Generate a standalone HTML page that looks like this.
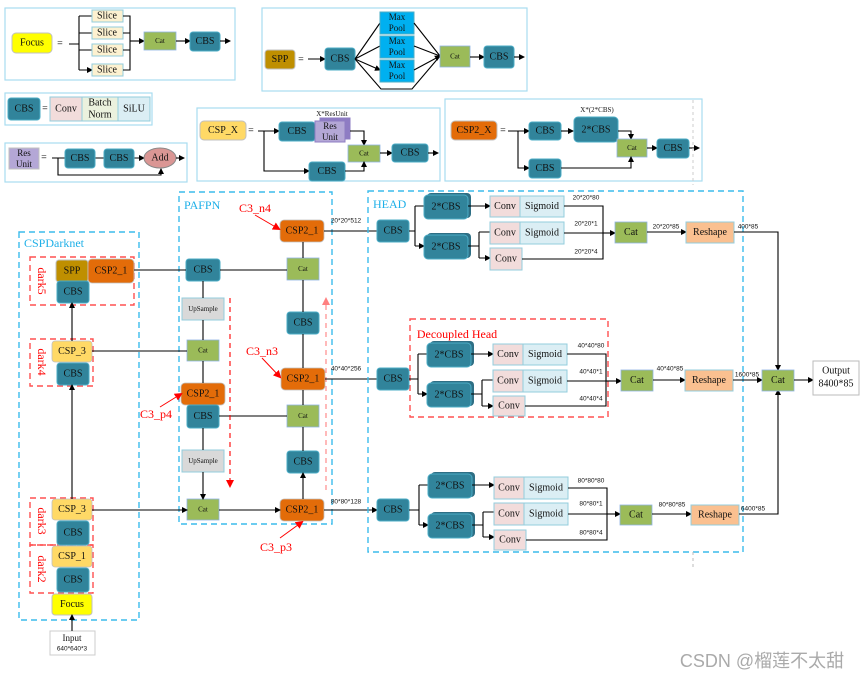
<!DOCTYPE html>
<html><head><meta charset="utf-8"><style>
html,body{margin:0;padding:0;background:#fff;}
svg{display:block;font-family:"Liberation Serif",serif;}
.cbs{fill:#31849b;stroke:#4bacc6;stroke-width:1;}
.cat{fill:#9bbb59;stroke:#8eb4e3;stroke-width:.8;}
.csp2{fill:#e36c09;stroke:#c0c0c0;stroke-width:.8;}
.csp{fill:#ffd966;stroke:#c0c0c0;stroke-width:.8;}
.conv{fill:#f2dcdb;stroke:#93cddd;stroke-width:1;}
.sig{fill:#dbeef4;stroke:#93cddd;stroke-width:1;}
.resh{fill:#fac090;stroke:#93cddd;stroke-width:1;}
.up{fill:#d9d9d9;stroke:#93cddd;stroke-width:1;}
.slice{fill:#fdf1d0;stroke:#93cddd;stroke-width:1;}
.mp{fill:#00b0f0;stroke:#4bacc6;stroke-width:1;}
.box{fill:none;stroke:#a8ddf0;stroke-width:1.2;}
.bd{fill:none;stroke:#3cbcec;stroke-width:1.4;stroke-dasharray:6,4;}
.rd{fill:none;stroke:#ff5050;stroke-width:1.4;stroke-dasharray:6,4;}
.l{fill:none;stroke:#000;stroke-width:1.1;}
text{font-size:10px;text-anchor:middle;dominant-baseline:central;fill:#111;}
.s{font-size:6.5px;font-family:"Liberation Sans",sans-serif;}
.r{fill:#f00;font-size:12px;}
.b{fill:#1fb0e8;font-size:12px;text-anchor:start;}
</style></head><body>
<svg width="863" height="679" viewBox="0 0 863 679" xmlns="http://www.w3.org/2000/svg">
<defs>
<marker id="a" markerWidth="6" markerHeight="6" refX="5" refY="3" orient="auto" markerUnits="userSpaceOnUse"><path d="M0,0L6,3L0,6z" fill="#000"/></marker>
<marker id="ar" markerWidth="8" markerHeight="8" refX="6" refY="4" orient="auto" markerUnits="userSpaceOnUse"><path d="M0,0L8,4L0,8z" fill="#f00"/></marker>
</defs>

<rect class="box" x="5" y="8" width="230" height="72"/>
<rect x="12" y="33" width="40" height="20" rx="4" fill="#ffff00" stroke="#c0c0c0"/><text x="32" y="43">Focus</text>
<text x="60" y="44" fill="#888">=</text>
<path class="l" d="M69,44H79M79,16V70"/>
<path class="l" marker-end="url(#a)" d="M79,16H92M79,33H92M79,50H92M79,70H92"/>
<rect class="slice" x="92" y="10" width="31" height="12"/><text x="107" y="16">Slice</text>
<rect class="slice" x="92" y="27" width="31" height="12"/><text x="107" y="33">Slice</text>
<rect class="slice" x="92" y="44" width="31" height="12"/><text x="107" y="50">Slice</text>
<rect class="slice" x="92" y="64" width="31" height="12"/><text x="107" y="70">Slice</text>
<path class="l" d="M123,16H130V70H123M123,33H130M123,50H130"/>
<path class="l" marker-end="url(#a)" d="M130,41H144"/>
<rect class="cat" x="144" y="32" width="32" height="18"/><text x="160" y="41" style="font-size:7px">Cat</text>
<path class="l" marker-end="url(#a)" d="M176,41H190"/>
<rect class="cbs" x="190" y="32" width="30" height="19" rx="3"/><text x="205" y="41.5">CBS</text>
<path class="l" marker-end="url(#a)" d="M220,41H230"/>

<rect class="box" x="5" y="93" width="147" height="32"/>
<rect class="cbs" x="8" y="98" width="32" height="22" rx="3"/><text x="24" y="109">CBS</text>
<text x="45" y="109" fill="#888">=</text>
<rect class="conv" x="50" y="97" width="32" height="24"/><text x="66" y="109">Conv</text>
<rect x="82" y="97" width="36" height="24" fill="#ebf1de" stroke="#93cddd"/><text x="100" y="103">Batch</text><text x="100" y="115">Norm</text>
<rect class="sig" x="118" y="97" width="32" height="24"/><text x="134" y="109">SiLU</text>

<rect class="box" x="5" y="143" width="182" height="39"/>
<rect x="9" y="148" width="30" height="21" fill="#b4a7d6" stroke="#c0c0c0"/><text x="24" y="153" style="font-size:9px">Res</text><text x="24" y="164" style="font-size:9px">Unit</text>
<text x="44" y="158" fill="#888">=</text>
<path class="l" marker-end="url(#a)" d="M52,158H65M95,158H104M134,158H144"/>
<rect class="cbs" x="65" y="149" width="30" height="19" rx="3"/><text x="80" y="158.5">CBS</text>
<rect class="cbs" x="104" y="149" width="30" height="19" rx="3"/><text x="119" y="158.5">CBS</text>
<ellipse cx="160" cy="158" rx="16" ry="10" fill="#da9694" stroke="#888"/><text x="160" y="158">Add</text>
<path class="l" marker-end="url(#a)" d="M176,158H184"/>
<path class="l" marker-end="url(#a)" d="M58,158V175H161V169"/>

<rect class="box" x="262" y="8" width="265" height="83"/>
<rect x="265" y="50" width="30" height="19" rx="3" fill="#bf8f00" stroke="#c0c0c0"/><text x="280" y="59.5">SPP</text>
<text x="301" y="60" fill="#888">=</text>
<path class="l" marker-end="url(#a)" d="M308,59H325"/>
<rect class="cbs" x="325" y="48" width="30" height="22" rx="3"/><text x="340" y="59">CBS</text>
<path class="l" marker-end="url(#a)" d="M355,59L380,23M355,59L380,46M355,59L380,70"/>
<path class="l" d="M355,59L381,89H412L440,56"/>
<rect class="mp" x="380" y="12" width="34" height="22"/><text x="397" y="17" style="font-size:9px">Max</text><text x="397" y="28" style="font-size:9px">Pool</text>
<rect class="mp" x="380" y="36" width="34" height="22"/><text x="397" y="41" style="font-size:9px">Max</text><text x="397" y="52" style="font-size:9px">Pool</text>
<rect class="mp" x="380" y="60" width="34" height="22"/><text x="397" y="65" style="font-size:9px">Max</text><text x="397" y="76" style="font-size:9px">Pool</text>
<path class="l" marker-end="url(#a)" d="M414,23L440,56M414,46L440,56M414,70L440,56"/>
<rect class="cat" x="440" y="46" width="30" height="21"/><text x="455" y="56.5" style="font-size:7px">Cat</text>
<path class="l" marker-end="url(#a)" d="M470,57H484"/>
<rect class="cbs" x="484" y="46" width="30" height="22" rx="3"/><text x="499" y="57">CBS</text>
<path class="l" marker-end="url(#a)" d="M514,57H524"/>

<rect class="box" x="197" y="108" width="243" height="73"/>
<rect x="200" y="121" width="46" height="19" rx="4" fill="#ffd966" stroke="#c0c0c0"/><text x="223" y="130.5">CSP_X</text>
<text x="251" y="131" fill="#888">=</text>
<path class="l" marker-end="url(#a)" d="M258,131H279"/>
<path class="l" marker-end="url(#a)" d="M264,131V171H309"/>
<rect class="cbs" x="279" y="122" width="36" height="19" rx="3"/><text x="297" y="131.5">CBS</text>
<text x="332" y="114" style="font-size:7px">X*ResUnit</text>
<rect x="320" y="118" width="30" height="21" fill="#8e7cc3" stroke="#8e7cc3"/>
<rect x="315" y="121" width="30" height="21" fill="#b4a7d6" stroke="#8e7cc3"/><text x="330" y="126" style="font-size:9px">Res</text><text x="330" y="137" style="font-size:9px">Unit</text>
<path class="l" marker-end="url(#a)" d="M350,131H364V145"/>
<rect class="cat" x="348" y="145" width="32" height="17"/><text x="364" y="153.5" style="font-size:7px">Cat</text>
<rect class="cbs" x="309" y="162" width="36" height="19" rx="3"/><text x="327" y="171.5">CBS</text>
<path class="l" marker-end="url(#a)" d="M345,171H364V162"/>
<path class="l" marker-end="url(#a)" d="M380,153H392"/>
<rect class="cbs" x="392" y="144" width="36" height="18" rx="3"/><text x="410" y="153">CBS</text>
<path class="l" marker-end="url(#a)" d="M428,153H438"/>

<rect class="box" x="445" y="99" width="257" height="82"/>
<rect x="451" y="121" width="46" height="19" rx="4" fill="#e36c09" stroke="#c0c0c0"/><text x="474" y="130.5">CSP2_X</text>
<text x="503" y="131" fill="#888">=</text>
<path class="l" marker-end="url(#a)" d="M508,131H529"/>
<path class="l" marker-end="url(#a)" d="M518,131V168H529"/>
<rect class="cbs" x="529" y="122" width="32" height="18" rx="3"/><text x="545" y="131">CBS</text>
<text x="597" y="110" style="font-size:7px">X*(2*CBS)</text>
<path class="l" marker-end="url(#a)" d="M561,131H573"/>
<rect class="cbs" x="574" y="117" width="44" height="25" rx="4"/><text x="596" y="130">2*CBS</text>
<path class="l" marker-end="url(#a)" d="M618,131H631V139"/>
<rect class="cat" x="617" y="139" width="30" height="18"/><text x="632" y="148" style="font-size:7px">Cat</text>
<rect class="cbs" x="529" y="159" width="32" height="19" rx="3"/><text x="545" y="168.5">CBS</text>
<path class="l" marker-end="url(#a)" d="M561,168H631V157"/>
<path class="l" marker-end="url(#a)" d="M647,148H657"/>
<rect class="cbs" x="657" y="139" width="32" height="19" rx="3"/><text x="673" y="148.5">CBS</text>
<path class="l" marker-end="url(#a)" d="M689,148H699"/>
<path d="M693,100V185" stroke="#ccc" stroke-dasharray="3,3"/>

<rect class="bd" x="19" y="232" width="120" height="388"/>
<text class="b" x="24" y="243">CSPDarknet</text>
<rect class="rd" x="30" y="257" width="104" height="48"/>
<rect class="rd" x="30" y="339" width="63" height="47"/>
<rect class="rd" x="30" y="498" width="63" height="47"/>
<rect class="rd" x="30" y="545" width="63" height="48"/>
<text class="r" transform="translate(42,281) rotate(90)">dark5</text>
<text class="r" transform="translate(42,362) rotate(90)">dark4</text>
<text class="r" transform="translate(42,521) rotate(90)">dark3</text>
<text class="r" transform="translate(42,569) rotate(90)">dark2</text>
<rect x="56" y="260" width="32" height="22" rx="3" fill="#bf8f00" stroke="#c0c0c0"/><text x="72" y="271">SPP</text>
<rect class="csp2" x="88" y="259" width="46" height="24" rx="4"/><text x="111" y="271">CSP2_1</text>
<rect class="cbs" x="57" y="281" width="32" height="22" rx="3"/><text x="73" y="292">CBS</text>
<rect class="csp" x="52" y="341" width="40" height="21" rx="3"/><text x="72" y="351.5">CSP_3</text>
<rect class="cbs" x="57" y="363" width="32" height="22" rx="3"/><text x="73" y="374">CBS</text>
<rect class="csp" x="52" y="499" width="40" height="21" rx="3"/><text x="72" y="509.5">CSP_3</text>
<rect class="cbs" x="57" y="521" width="32" height="24" rx="3"/><text x="73" y="533">CBS</text>
<rect class="csp" x="52" y="546" width="40" height="21" rx="3"/><text x="72" y="556.5">CSP_1</text>
<rect class="cbs" x="57" y="568" width="32" height="24" rx="3"/><text x="73" y="580">CBS</text>
<rect x="52" y="594" width="40" height="21" rx="3" fill="#ffff00" stroke="#c0c0c0"/><text x="72" y="604.5">Focus</text>
<rect x="50" y="631" width="45" height="24" fill="#fff" stroke="#ccc"/><text x="72" y="638" style="font-size:9px">Input</text><text class="s" x="72" y="649">640*640*3</text>
<path class="l" marker-end="url(#a)" d="M72,631V615"/>
<path class="l" marker-end="url(#a)" d="M72,499V385"/>
<path class="l" marker-end="url(#a)" d="M72,341V303"/>

<rect class="bd" x="179" y="192" width="153" height="332"/>
<text class="b" x="184" y="205">PAFPN</text>
<rect class="cbs" x="186" y="259" width="34" height="22" rx="3"/><text x="203" y="270">CBS</text>
<rect class="up" x="182" y="298" width="42" height="22"/><text x="203" y="309" style="font-size:7px">UpSample</text>
<rect class="cat" x="187" y="340" width="32" height="21"/><text x="203" y="350.5" style="font-size:7px">Cat</text>
<rect class="csp2" x="181" y="383" width="44" height="22" rx="4"/><text x="203" y="394">CSP2_1</text>
<rect class="cbs" x="187" y="405" width="32" height="23" rx="3"/><text x="203" y="416.5">CBS</text>
<rect class="up" x="182" y="450" width="42" height="22"/><text x="203" y="461" style="font-size:7px">UpSample</text>
<rect class="cat" x="187" y="499" width="32" height="21"/><text x="203" y="509.5" style="font-size:7px">Cat</text>
<path class="l" marker-end="url(#a)" d="M203,281V298M203,320V340M203,361V383M203,428V450M203,472V499"/>
<path class="l" marker-end="url(#a)" d="M134,270H186M92,351H187M92,510H187"/>
<rect class="csp2" x="280" y="220" width="44" height="22" rx="4"/><text x="302" y="231">CSP2_1</text>
<rect class="cat" x="287" y="258" width="32" height="22"/><text x="303" y="269" style="font-size:7px">Cat</text>
<rect class="cbs" x="287" y="312" width="32" height="22" rx="3"/><text x="303" y="323">CBS</text>
<rect class="csp2" x="281" y="368" width="44" height="22" rx="4"/><text x="303" y="379">CSP2_1</text>
<rect class="cat" x="287" y="405" width="32" height="22"/><text x="303" y="416" style="font-size:7px">Cat</text>
<rect class="cbs" x="287" y="451" width="32" height="22" rx="3"/><text x="303" y="462">CBS</text>
<rect class="csp2" x="280" y="499" width="44" height="22" rx="4"/><text x="302" y="510">CSP2_1</text>
<path class="l" marker-end="url(#a)" d="M303,258V242M303,312V280M303,368V334M303,405V390M303,451V427M303,499V473"/>
<path class="l" marker-end="url(#a)" d="M220,270H287M219,416H287M219,510H280"/>
<path class="l" style="stroke:#f00;stroke-dasharray:5,4" d="M230,298V480"/><path d="M226,480L230,488L234,480z" fill="#f00"/>
<path class="l" style="stroke:#ff8080;stroke-dasharray:5,4" d="M326,490V305"/><path d="M322,305L326,297L330,305z" fill="#ff8080"/>
<text class="r" x="255" y="208">C3_n4</text><path stroke="#f00" marker-end="url(#ar)" d="M255,215L279,229"/>
<text class="r" x="262" y="351">C3_n3</text><path stroke="#f00" marker-end="url(#ar)" d="M262,358L280,377"/>
<text class="r" x="156" y="414">C3_p4</text><path stroke="#f00" marker-end="url(#ar)" d="M160,407L181,394"/>
<text class="r" x="276" y="547">C3_p3</text><path stroke="#f00" marker-end="url(#ar)" d="M280,538L302,522"/>
<text class="s" x="346" y="221">20*20*512</text>
<text class="s" x="346" y="369">40*40*256</text>
<text class="s" x="346" y="502">80*80*128</text>
<path class="l" marker-end="url(#a)" d="M324,231H377M325,379H377M324,510H377"/>

<rect class="bd" x="368" y="191" width="375" height="361"/>
<text class="b" x="373" y="204">HEAD</text>
<rect class="rd" x="410" y="319" width="198" height="98"/>
<text class="r" x="457" y="334">Decoupled Head</text>
<path d="M693,552V570" stroke="#bbb" stroke-dasharray="3,3"/>

<g>
<rect class="cbs" x="377" y="220" width="32" height="22" rx="3"/><text x="393" y="231">CBS</text>
<path class="l" d="M409,231H415M415,206V246"/>
<path class="l" marker-end="url(#a)" d="M415,206H424M415,246H424"/>
<rect x="427" y="193" width="44" height="25" rx="4" fill="#2e6f85"/><rect class="cbs" x="424" y="195" width="44" height="24" rx="4"/><text x="446" y="207">2*CBS</text>
<rect x="427" y="233" width="44" height="25" rx="4" fill="#2e6f85"/><rect class="cbs" x="424" y="235" width="44" height="24" rx="4"/><text x="446" y="247">2*CBS</text>
<path class="l" marker-end="url(#a)" d="M468,206H490"/>
<path class="l" d="M468,246H479M479,232V258"/>
<path class="l" marker-end="url(#a)" d="M479,232H490M479,258H490"/>
<rect class="conv" x="490" y="196" width="30" height="21"/><text x="505" y="206.5">Conv</text>
<rect class="sig" x="520" y="196" width="44" height="21"/><text x="542" y="206.5">Sigmoid</text>
<rect class="conv" x="490" y="222" width="30" height="22"/><text x="505" y="233">Conv</text>
<rect class="sig" x="520" y="222" width="44" height="22"/><text x="542" y="233">Sigmoid</text>
<rect class="conv" x="490" y="248" width="32" height="22"/><text x="506" y="259">Conv</text>
<path class="l" d="M564,206H603V259H522M564,233H603"/>
<path class="l" marker-end="url(#a)" d="M603,233H615"/>
<text class="s" x="586" y="198">20*20*80</text><text class="s" x="586" y="224">20*20*1</text><text class="s" x="586" y="252">20*20*4</text>
<rect class="cat" x="615" y="222" width="32" height="21"/><text x="631" y="232.5">Cat</text>
<path class="l" marker-end="url(#a)" d="M647,232H686"/>
<text class="s" x="666" y="227">20*20*85</text>
<rect class="resh" x="686" y="222" width="48" height="21"/><text x="710" y="232.5">Reshape</text>
<text class="s" x="748" y="227">400*85</text>
</g>

<g transform="translate(3,148)">
<rect class="cbs" x="374" y="220" width="32" height="22" rx="3"/><text x="390" y="231">CBS</text>
<path class="l" d="M406,231H415M415,206V246"/>
<path class="l" marker-end="url(#a)" d="M415,206H424M415,246H424"/>
<rect x="427" y="193" width="44" height="25" rx="4" fill="#2e6f85"/><rect class="cbs" x="424" y="195" width="44" height="24" rx="4"/><text x="446" y="207">2*CBS</text>
<rect x="427" y="233" width="44" height="25" rx="4" fill="#2e6f85"/><rect class="cbs" x="424" y="235" width="44" height="24" rx="4"/><text x="446" y="247">2*CBS</text>
<path class="l" marker-end="url(#a)" d="M468,206H490"/>
<path class="l" d="M468,246H479M479,232V258"/>
<path class="l" marker-end="url(#a)" d="M479,232H490M479,258H490"/>
<rect class="conv" x="490" y="196" width="30" height="21"/><text x="505" y="206.5">Conv</text>
<rect class="sig" x="520" y="196" width="44" height="21"/><text x="542" y="206.5">Sigmoid</text>
<rect class="conv" x="490" y="222" width="30" height="22"/><text x="505" y="233">Conv</text>
<rect class="sig" x="520" y="222" width="44" height="22"/><text x="542" y="233">Sigmoid</text>
<rect class="conv" x="490" y="248" width="32" height="20"/><text x="506" y="258">Conv</text>
<path class="l" d="M564,206H603V258H522M564,233H603"/>
<path class="l" marker-end="url(#a)" d="M603,233H618"/>
<text class="s" x="588" y="198">40*40*80</text><text class="s" x="588" y="224">40*40*1</text><text class="s" x="588" y="251">40*40*4</text>
<rect class="cat" x="618" y="222" width="32" height="21"/><text x="634" y="232.5">Cat</text>
<path class="l" marker-end="url(#a)" d="M650,232H682"/>
<text class="s" x="667" y="221">40*40*85</text>
<rect class="resh" x="682" y="222" width="48" height="21"/><text x="706" y="232.5">Reshape</text>
<text class="s" x="744" y="227">1600*85</text>
</g>

<g transform="translate(4,279)">
<rect class="cbs" x="373" y="220" width="32" height="22" rx="3"/><text x="389" y="231">CBS</text>
<path class="l" d="M405,231H415M415,206V246"/>
<path class="l" marker-end="url(#a)" d="M415,206H424M415,246H424"/>
<rect x="427" y="193" width="44" height="25" rx="4" fill="#2e6f85"/><rect class="cbs" x="424" y="195" width="44" height="24" rx="4"/><text x="446" y="207">2*CBS</text>
<rect x="427" y="233" width="44" height="25" rx="4" fill="#2e6f85"/><rect class="cbs" x="424" y="235" width="44" height="24" rx="4"/><text x="446" y="247">2*CBS</text>
<path class="l" marker-end="url(#a)" d="M468,206H490"/>
<path class="l" d="M468,246H479M479,233V258"/>
<path class="l" marker-end="url(#a)" d="M479,233H490M479,258H490"/>
<rect class="conv" x="490" y="198" width="30" height="22"/><text x="505" y="209">Conv</text>
<rect class="sig" x="520" y="198" width="44" height="22"/><text x="542" y="209">Sigmoid</text>
<rect class="conv" x="490" y="224" width="30" height="22"/><text x="505" y="235">Conv</text>
<rect class="sig" x="520" y="224" width="44" height="22"/><text x="542" y="235">Sigmoid</text>
<rect class="conv" x="490" y="251" width="32" height="20"/><text x="506" y="261">Conv</text>
<path class="l" d="M564,209H603V261H522M564,235H603"/>
<path class="l" marker-end="url(#a)" d="M603,235H616"/>
<text class="s" x="587" y="202">80*80*80</text><text class="s" x="587" y="225">80*80*1</text><text class="s" x="587" y="254">80*80*4</text>
<rect class="cat" x="616" y="226" width="32" height="20"/><text x="632" y="236">Cat</text>
<path class="l" marker-end="url(#a)" d="M648,235H687"/>
<text class="s" x="668" y="226">80*80*85</text>
<rect class="resh" x="687" y="226" width="48" height="20"/><text x="711" y="236">Reshape</text>
<text class="s" x="749" y="230">6400*85</text>
</g>

<path class="l" marker-end="url(#a)" d="M734,232H778V370"/>
<path class="l" marker-end="url(#a)" d="M733,380H762"/>
<path class="l" marker-end="url(#a)" d="M739,514H778V390"/>
<rect class="cat" x="762" y="370" width="32" height="21"/><text x="778" y="380.5">Cat</text>
<path class="l" marker-end="url(#a)" d="M794,380H813"/>
<rect x="813" y="361" width="46" height="34" fill="#fff" stroke="#bbb"/><text x="836" y="371">Output</text><text x="836" y="384">8400*85</text>

<text x="762" y="661" style="font-family:'Liberation Sans','Noto Sans CJK SC',sans-serif;font-size:18px;fill:#aaa">CSDN @榴莲不太甜</text>
</svg>
</body></html>
